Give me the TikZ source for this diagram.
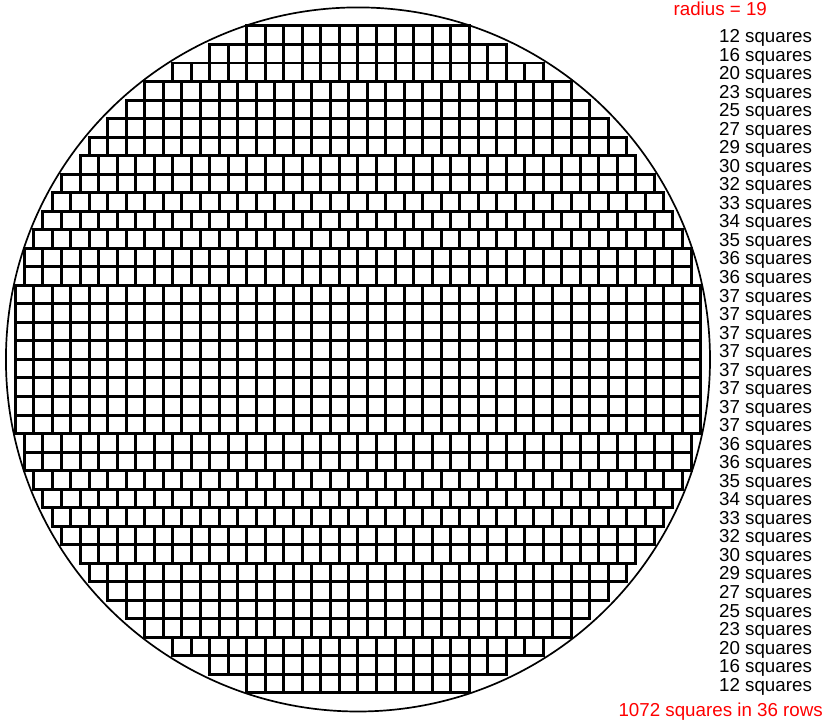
\documentclass[tikz,border=0pt]{standalone}
\usepackage{fontspec}
\setmainfont{Liberation Sans}
\newlength{\du}
\setlength{\du}{0.5cm}

\begin{document}
\begin{tikzpicture}[
  cell/.style={draw=dialinecolor,line width=2.3pt},
  rowlabel/.style={anchor=base east,inner sep=0pt,outer sep=0pt,color=dialinecolor,font=\fontsize{14.4}{14.4}\selectfont},
  note/.style={anchor=base east,inner sep=0pt,outer sep=0pt,color=notecolor,font=\fontsize{14.4}{14.4}\selectfont}]
\definecolor{dialinecolor}{rgb}{0.000000, 0.000000, 0.000000}
\definecolor{notecolor}{rgb}{1.000000, 0.000000, 0.000000}
\useasboundingbox (-19.32\du,-19.78\du) rectangle (25.26\du,19.40\du);
% circle of radius 19
\coordinate (centre) at (0\du,0\du);
\draw[line width=1.3pt,color=dialinecolor] (centre) circle (19\du);
% rows of squares, top to bottom
\foreach \n [count=\i] in {12,16,20,23,25,27,29,30,32,33,34,35,36,36,37,37,37,37,37,37,37,37,36,36,35,34,33,32,30,29,27,25,23,20,16,12}
{
  \foreach \k in {1,...,\n}
    \draw[cell] ({(\k-1-\n/2)*\du},{(18-\i)*\du}) rectangle ++(\du,\du);
  \node[rowlabel] (row\i) at (24.5\du,{(18.1-\i)*\du}) {\n\ squares};
}
% setfont left to latex
\node[note] (radius) at (22.07\du,18.55\du) {radius = 19};
\node[note] (total) at (25.09\du,-19.28\du) {1072 squares in 36 rows};
\end{tikzpicture}
\end{document}
